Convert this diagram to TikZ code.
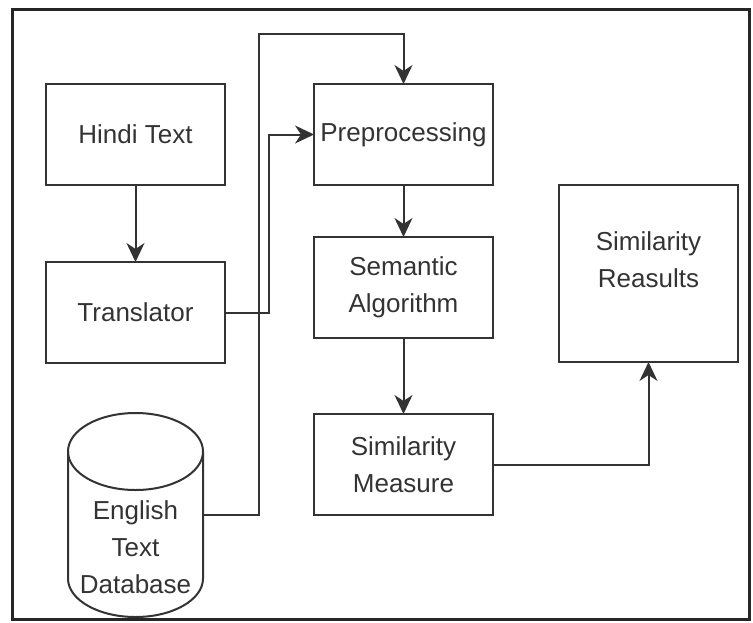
\documentclass[tikz,border=0pt]{standalone}
\usepackage{fontspec}
\setmainfont{Liberation Sans}
\usetikzlibrary{arrows.meta, positioning}

\begin{document}
\begin{tikzpicture}[x=1pt, y=-1pt, >={Stealth[length=19pt, width=18pt, inset=6pt]},
    box/.style={draw=black!80, rectangle, line width=2pt, outer sep=0pt,
        minimum width=179pt, minimum height=101pt, align=center,
        text=black!80, font=\fontsize{26}{37}\selectfont},
    link/.style={draw=black!80, line width=2pt}]
    \useasboundingbox (0,0) rectangle (753,622);
    \draw[line width=3pt, black!85] (12,9) rectangle (749,619);

    \node[box] (hindi) at (135.5,134.5) {Hindi Text};
    \node[box, below=77pt of hindi] (trans) {Translator};
    \node[box, right=89pt of hindi] (prep) {Preprocessing};
    \node[box, below=52pt of prep] (sem) {Semantic\\Algorithm};
    \node[box, below=76pt of sem] (meas) {Similarity\\Measure};
    \node[box, minimum height=177pt, text depth=27pt] (res) at (648.5,273.5) {Similarity\\Reasults};

    % database cylinder
    \node[outer sep=0pt, minimum width=135pt, minimum height=204pt] (db) at (135.5,515) {};
    \draw[link] (135.5,451.5) ellipse[x radius=67.5, y radius=38.5];
    \draw[link] (68,451.5) -- (68,578.5) arc[start angle=180, end angle=0, x radius=67.5, y radius=38.5] -- (203,451.5);
    \node[align=center, text=black!80, font=\fontsize{26}{37}\selectfont] (dbtext) at (135.5,547) {English\\Text\\Database};

    \draw[link, ->] (hindi) -- (trans);
    \draw[link, ->] (trans.east) -- ++(44,0) |- (prep.west);
    \draw[link, ->] (db.east) -- ++(56,0) |- ([yshift=50pt]prep.north) -- (prep.north);
    \draw[link, ->] (prep) -- (sem);
    \draw[link, ->] (sem) -- (meas);
    \draw[link, ->] (meas.east) -| (res.south);
\end{tikzpicture}
\end{document}
